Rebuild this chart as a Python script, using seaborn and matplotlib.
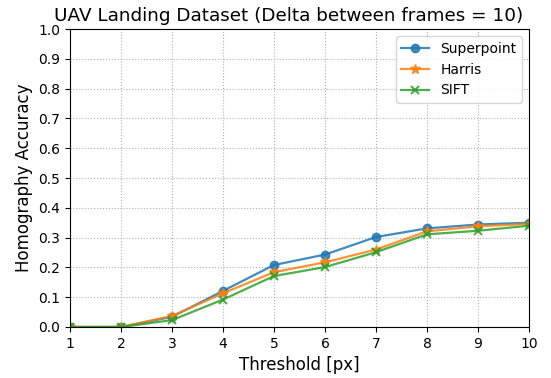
import matplotlib
matplotlib.use("Agg")
import matplotlib.pyplot as plt
import seaborn as sns
import pandas as pd

thresholds = [1, 2, 3, 4, 5, 6, 7, 8, 9, 10]
superpoint = [0.0, 0.0, 0.034, 0.121, 0.208, 0.243, 0.302, 0.331, 0.344, 0.350]
harris = [0.0, 0.0, 0.037, 0.113, 0.184, 0.217, 0.260, 0.321, 0.338, 0.346]
sift = [0.0, 0.0, 0.023, 0.092, 0.171, 0.201, 0.251, 0.311, 0.323, 0.340]
series_names = ["Superpoint", "Harris", "SIFT"]
markers = ["o", "*", "x"]
colors = ["#1f77b4", "#ff7f0e", "#2ca02c"]

fig = plt.figure(figsize=(5.51, 3.78), dpi=100)
ax = fig.add_axes([0.127, 0.135, 0.833, 0.788])

for name, vals, m, c in zip(series_names, [superpoint, harris, sift], markers, colors):
    df = pd.DataFrame({"x": thresholds, "y": vals})
    sns.lineplot(data=df, x="x", y="y", ax=ax, marker=m, color=c, label=name,
                 markersize=6 if m != "*" else 7, markeredgecolor=c, linewidth=1.6,
                 markeredgewidth=1.5 if m == "x" else 1.0, alpha=0.85)

ax.set_xlim(1, 10)
ax.set_ylim(0, 1.0)
ax.set_xticks(thresholds)
ax.set_yticks([i / 10 for i in range(11)])
ax.grid(True, linestyle=":", color="#b0b0b0", linewidth=0.8)
ax.set_xlabel("Threshold [px]", fontsize=12)
ax.set_ylabel("Homography Accuracy", fontsize=12)
ax.set_title("UAV Landing Dataset (Delta between frames = 10)", fontsize=13.2, x=0.476)
ax.legend(loc="upper right")

fig.savefig("out.png", dpi=100)
